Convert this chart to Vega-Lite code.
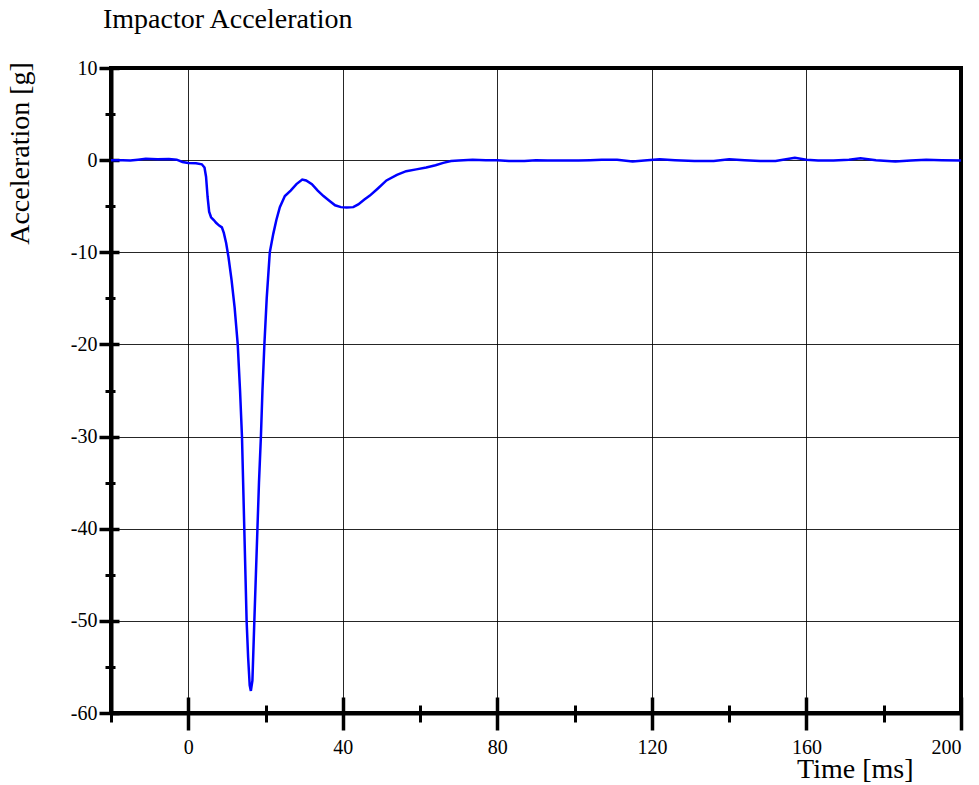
{
  "$schema": "https://vega.github.io/schema/vega-lite/v6.json",
  "width": 850,
  "height": 645,
  "autosize": "none",
  "padding": {"left": 111, "top": 68, "right": 18, "bottom": 72},
  "background": "white",
  "config": {
    "view": {"stroke": "black", "strokeWidth": 4},
    "font": "Liberation Serif"
  },
  "title": {
    "text": "Impactor Acceleration",
    "anchor": "start",
    "frame": "group",
    "font": "Liberation Serif",
    "fontSize": 28,
    "fontWeight": "normal",
    "color": "black",
    "baseline": "alphabetic",
    "dx": -8,
    "offset": 2
  },
  "data": {
    "values": [
      {"t": -20, "a": 0.0}, {"t": -17, "a": 0.0}, {"t": -15, "a": -0.05}, {"t": -13, "a": 0.05},
      {"t": -11, "a": 0.15}, {"t": -8, "a": 0.1}, {"t": -5, "a": 0.12}, {"t": -3, "a": 0.05},
      {"t": -1.5, "a": -0.2}, {"t": 0, "a": -0.3}, {"t": 2, "a": -0.35}, {"t": 3.5, "a": -0.45},
      {"t": 4.2, "a": -0.8}, {"t": 4.6, "a": -1.8}, {"t": 5.0, "a": -4.0}, {"t": 5.4, "a": -5.6},
      {"t": 5.9, "a": -6.2}, {"t": 6.6, "a": -6.5}, {"t": 7.2, "a": -6.8}, {"t": 8.0, "a": -7.1},
      {"t": 8.7, "a": -7.3}, {"t": 9.2, "a": -7.9}, {"t": 9.8, "a": -9.0}, {"t": 10.4, "a": -10.5},
      {"t": 11.2, "a": -13.0}, {"t": 12.0, "a": -16.0}, {"t": 12.8, "a": -20}, {"t": 13.4, "a": -25},
      {"t": 13.9, "a": -30}, {"t": 14.2, "a": -35}, {"t": 14.5, "a": -40}, {"t": 14.8, "a": -45},
      {"t": 15.1, "a": -50}, {"t": 15.5, "a": -54}, {"t": 15.9, "a": -57}, {"t": 16.2, "a": -57.6},
      {"t": 16.6, "a": -56.5}, {"t": 17.1, "a": -50}, {"t": 17.5, "a": -45}, {"t": 17.9, "a": -40},
      {"t": 18.3, "a": -35}, {"t": 18.8, "a": -30}, {"t": 19.2, "a": -25}, {"t": 19.7, "a": -20},
      {"t": 20.3, "a": -15}, {"t": 21.1, "a": -10}, {"t": 22.0, "a": -8}, {"t": 22.8, "a": -6.5},
      {"t": 23.7, "a": -5.1}, {"t": 25.0, "a": -3.9}, {"t": 26.5, "a": -3.3}, {"t": 28.0, "a": -2.6},
      {"t": 29.5, "a": -2.1}, {"t": 30.5, "a": -2.2}, {"t": 32.0, "a": -2.6}, {"t": 33.5, "a": -3.3},
      {"t": 35.0, "a": -3.9}, {"t": 36.5, "a": -4.4}, {"t": 38.0, "a": -4.9}, {"t": 39.5, "a": -5.1},
      {"t": 41.0, "a": -5.15}, {"t": 42.7, "a": -5.1}, {"t": 44.0, "a": -4.8}, {"t": 45.5, "a": -4.3},
      {"t": 47.0, "a": -3.85}, {"t": 49.0, "a": -3.1}, {"t": 51.3, "a": -2.2}, {"t": 54.0, "a": -1.6},
      {"t": 56.4, "a": -1.2}, {"t": 59.0, "a": -1.0}, {"t": 61.6, "a": -0.8}, {"t": 64.0, "a": -0.55},
      {"t": 66.0, "a": -0.3}, {"t": 68.0, "a": -0.1}, {"t": 70.0, "a": -0.05}, {"t": 73.6, "a": 0.05},
      {"t": 77, "a": 0.0}, {"t": 80, "a": 0.0}, {"t": 83, "a": -0.1}, {"t": 87, "a": -0.1},
      {"t": 90, "a": 0.0}, {"t": 93, "a": -0.05}, {"t": 97, "a": -0.05}, {"t": 101, "a": -0.05},
      {"t": 104, "a": 0.0}, {"t": 107, "a": 0.05}, {"t": 111, "a": 0.05}, {"t": 115, "a": -0.15},
      {"t": 118, "a": -0.05}, {"t": 122, "a": 0.1}, {"t": 126, "a": 0.0}, {"t": 131, "a": -0.1},
      {"t": 136, "a": -0.1}, {"t": 140, "a": 0.1}, {"t": 144, "a": 0.0}, {"t": 148, "a": -0.1},
      {"t": 152, "a": -0.1}, {"t": 157, "a": 0.25}, {"t": 160, "a": 0.05}, {"t": 163, "a": -0.05},
      {"t": 167, "a": -0.05}, {"t": 171, "a": 0.05}, {"t": 174, "a": 0.2}, {"t": 178, "a": 0.0},
      {"t": 183, "a": -0.15}, {"t": 187, "a": -0.05}, {"t": 191, "a": 0.05}, {"t": 195, "a": 0.0},
      {"t": 200, "a": -0.05}
    ]
  },
  "resolve": {"axis": {"x": "independent", "y": "independent"}},
  "layer": [
    {
      "mark": {"type": "line", "opacity": 0},
      "encoding": {
        "x": {"field": "t", "type": "quantitative",
          "scale": {"domain": [-20, 200], "nice": false, "zero": false},
          "axis": {"orient": "bottom", "values": [-20, 20, 60, 100, 140, 180], "labels": false, "grid": false, "domain": false, "title": null, "tickSize": 9, "tickWidth": 3, "tickColor": "black"}},
        "y": {"field": "a", "type": "quantitative",
          "scale": {"domain": [-60, 10], "nice": false, "zero": false},
          "axis": {"orient": "left", "values": [5, -5, -15, -25, -35, -45, -55], "labels": false, "grid": false, "domain": false, "title": null, "tickSize": 6, "tickWidth": 3, "tickColor": "black"}}
      }
    },
    {
      "mark": {"type": "line", "opacity": 0},
      "encoding": {
        "x": {"field": "t", "type": "quantitative",
          "axis": {"orient": "bottom", "values": [-20, 20, 60, 100, 140, 180], "labels": false, "grid": false, "domain": false, "title": null, "tickSize": -8, "tickWidth": 3, "tickColor": "black"}},
        "y": {"field": "a", "type": "quantitative",
          "axis": {"orient": "left", "values": [5, -5, -15, -25, -35, -45, -55], "labels": false, "grid": false, "domain": false, "title": null, "tickSize": -4, "tickWidth": 3, "tickColor": "black"}}
      }
    },
    {
      "mark": {"type": "line", "opacity": 0},
      "encoding": {
        "x": {"field": "t", "type": "quantitative",
          "axis": {"orient": "bottom", "values": [0, 40, 80, 120, 160, 200], "labels": false, "grid": false, "domain": false, "title": null, "tickSize": -16, "tickWidth": 3.5, "tickColor": "black"}},
        "y": {"field": "a", "type": "quantitative",
          "axis": {"orient": "left", "values": [10, 0, -10, -20, -30, -40, -50, -60], "labels": false, "grid": false, "domain": false, "title": null, "tickSize": -8, "tickWidth": 3.5, "tickColor": "black"}}
      }
    },
    {
      "mark": {"type": "line", "color": "#0000ff", "strokeWidth": 2.5},
      "encoding": {
        "x": {"field": "t", "type": "quantitative",
          "axis": {"orient": "bottom", "values": [0, 40, 80, 120, 160, 200], "grid": true, "gridColor": "black", "gridWidth": 1, "gridOpacity": 0.85,
            "domain": true, "domainColor": "black", "domainWidth": 4,
            "tickSize": 17, "tickWidth": 3.5, "tickColor": "black",
            "labelFont": "Liberation Serif", "labelFontSize": 20, "labelColor": "black", "labelBaseline": "alphabetic", "labelPadding": 23, "labelOverlap": false,
            "title": "Time [ms]", "titleFont": "Liberation Serif", "titleFontSize": 28, "titleFontWeight": "normal", "titleColor": "black",
            "titleAlign": "right", "titleBaseline": "alphabetic", "titleX": 802, "titleY": 64}},
        "y": {"field": "a", "type": "quantitative",
          "axis": {"orient": "left", "values": [10, 0, -10, -20, -30, -40, -50, -60], "grid": true, "gridColor": "black", "gridWidth": 1, "gridOpacity": 0.85,
            "domain": true, "domainColor": "black", "domainWidth": 4,
            "tickSize": 12, "tickWidth": 3.5, "tickColor": "black",
            "labelFont": "Liberation Serif", "labelFontSize": 20, "labelColor": "black", "labelBaseline": "middle", "labelPadding": 2, "labelOverlap": false,
            "labelExpr": "datum.value < 0 ? '-' + abs(datum.value) : datum.label",
            "title": "Acceleration [g]", "titleFont": "Liberation Serif", "titleFontSize": 28, "titleFontWeight": "normal", "titleColor": "black",
            "titleAngle": -90, "titleAlign": "center", "titleBaseline": "alphabetic", "titleX": -83, "titleY": 85}}
      }
    }
  ]
}
